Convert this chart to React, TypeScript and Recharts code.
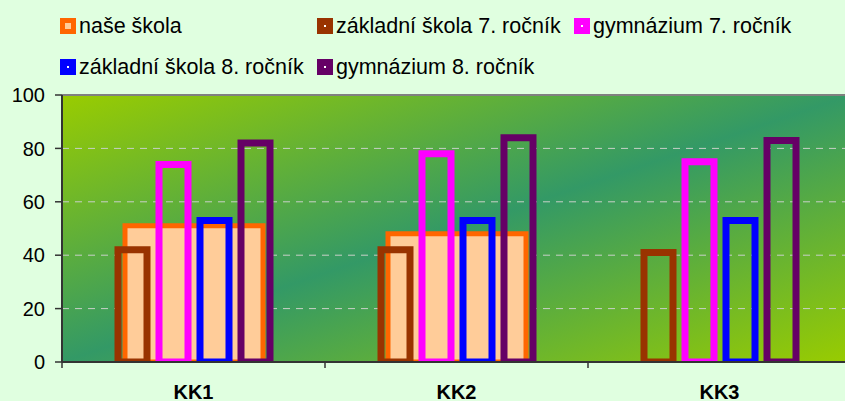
import React from "react";
import {
  BarChart,
  Bar,
  XAxis,
  YAxis,
  CartesianGrid,
  Legend,
  ReferenceLine,
} from "recharts";

const categories = ["KK1", "KK2", "KK3"];
const naseSkola = [51, 48, null];
const zakladni7 = [42, 42, 41];
const gymnazium7 = [74, 78, 75];
const zakladni8 = [53, 53, 53];
const gymnazium8 = [82, 84, 83];
const yTicks = [0, 20, 40, 60, 80, 100];

const FONT = "'Liberation Sans', Arial, sans-serif";
const AXIS = "#333333";
const X_TICK_SIZE = 6;
const X_TICK_MARGIN = 17;

const series = [
  { key: "nase", name: "naše škola", stroke: "#ff6600", fill: "#ffcc99", sw: 5 },
  { key: "zs7", name: "základní škola 7. ročník", stroke: "#993300", fill: "none", sw: 7 },
  { key: "g7", name: "gymnázium 7. ročník", stroke: "#ff00ff", fill: "none", sw: 7 },
  { key: "zs8", name: "základní škola 8. ročník", stroke: "#0000ff", fill: "none", sw: 7 },
  { key: "g8", name: "gymnázium 8. ročník", stroke: "#660066", fill: "none", sw: 7 },
];

const legendRows = [series.slice(0, 3), series.slice(3)];

const data = categories.map((cat, i) => ({
  cat,
  nase: naseSkola[i],
  zs7: zakladni7[i],
  g7: gymnazium7[i],
  zs8: zakladni8[i],
  g8: gymnazium8[i],
}));

const LegendBox = () => (
  <div
    style={{
      position: "relative",
      height: 95,
      width: 831,
      fontFamily: FONT,
      fontSize: 21.5,
      color: "#000",
    }}
  >
    {legendRows.map((row, r) => (
      <div
        key={r}
        style={{
          position: "absolute",
          left: 60,
          top: 14 + r * 41,
          height: 24,
          display: "flex",
        }}
      >
        {row.map((s) => (
          <div
            key={s.key}
            style={{ width: 257, height: 24, display: "flex", alignItems: "center" }}
          >
            <span
              style={{
                width: 16,
                height: 16,
                boxSizing: "border-box",
                border: `${s.key === "nase" ? 5 : 7}px solid ${s.stroke}`,
                background: s.key === "nase" ? s.fill : "#ffffff",
                marginRight: 3,
                flexShrink: 0,
              }}
            />
            <span style={{ whiteSpace: "nowrap", lineHeight: "24px" }}>{s.name}</span>
          </div>
        ))}
      </div>
    ))}
  </div>
);

const CategoryTick = (props: any) => {
  const { x, y, payload, index } = props;
  const half = payload?.offset ?? 0;
  const axisY = y - X_TICK_SIZE - X_TICK_MARGIN;
  return (
    <g>
      <line x1={x - half} x2={x - half} y1={axisY} y2={axisY + X_TICK_SIZE} stroke={AXIS} strokeWidth={1.5} />
      {index === categories.length - 1 && (
        <line x1={x + half} x2={x + half} y1={axisY} y2={axisY + X_TICK_SIZE} stroke={AXIS} strokeWidth={1.5} />
      )}
      <text
        x={x}
        y={y}
        dy="0.71em"
        textAnchor="middle"
        fontSize={20}
        fontWeight="bold"
        fontFamily={FONT}
        fill="#000"
      >
        {payload.value}
      </text>
    </g>
  );
};

export default function App() {
  return (
    <div
      style={{
        position: "absolute",
        left: 0,
        top: 0,
        width: 845,
        height: 401,
        overflow: "hidden",
        background: "#e0ffe0",
      }}
    >
      <BarChart
        width={870}
        height={401}
        data={data}
        margin={{ top: 0, right: 19, bottom: 9, left: 0 }}
        barGap={12}
      >
        <defs>
          <linearGradient id="plotBg" x1="0" y1="0" x2="1" y2="1">
            <stop offset="0%" stopColor="#99cc00" />
            <stop offset="50%" stopColor="#339966" />
            <stop offset="100%" stopColor="#99cc00" />
          </linearGradient>
        </defs>
        <Legend verticalAlign="top" align="left" content={<LegendBox />} />
        <CartesianGrid
          xAxisId="a"
          vertical={false}
          stroke="#c8d0c8"
          strokeDasharray="7 6"
          fill="url(#plotBg)"
          fillOpacity={1}
        />
        <Bar
          xAxisId="a"
          dataKey="nase"
          name="naše škola"
          barSize={138}
          fill="#ffcc99"
          stroke="#ff6600"
          strokeWidth={5}
          isAnimationActive={false}
        />
        {series.slice(1).map((s) => (
          <Bar
            key={s.key}
            xAxisId="b"
            dataKey={s.key}
            name={s.name}
            barSize={29}
            fill="none"
            stroke={s.stroke}
            strokeWidth={s.sw}
            isAnimationActive={false}
          />
        ))}
        <ReferenceLine xAxisId="a" y={100} stroke="#808080" strokeWidth={2} />
        <XAxis
          xAxisId="a"
          dataKey="cat"
          height={30}
          axisLine={{ stroke: AXIS, strokeWidth: 2 }}
          tickLine={false}
          tickSize={X_TICK_SIZE}
          tickMargin={X_TICK_MARGIN}
          tick={<CategoryTick />}
          interval={0}
        />
        <XAxis xAxisId="b" dataKey="cat" hide />
        <YAxis
          domain={[0, 100]}
          ticks={yTicks}
          interval={0}
          width={62}
          allowDataOverflow
          tickSize={7}
          tickMargin={10}
          axisLine={{ stroke: AXIS, strokeWidth: 2 }}
          tickLine={{ stroke: AXIS, strokeWidth: 1.5 }}
          tick={{ fill: "#000", fontSize: 20, fontFamily: FONT }}
        />
      </BarChart>
    </div>
  );
}
